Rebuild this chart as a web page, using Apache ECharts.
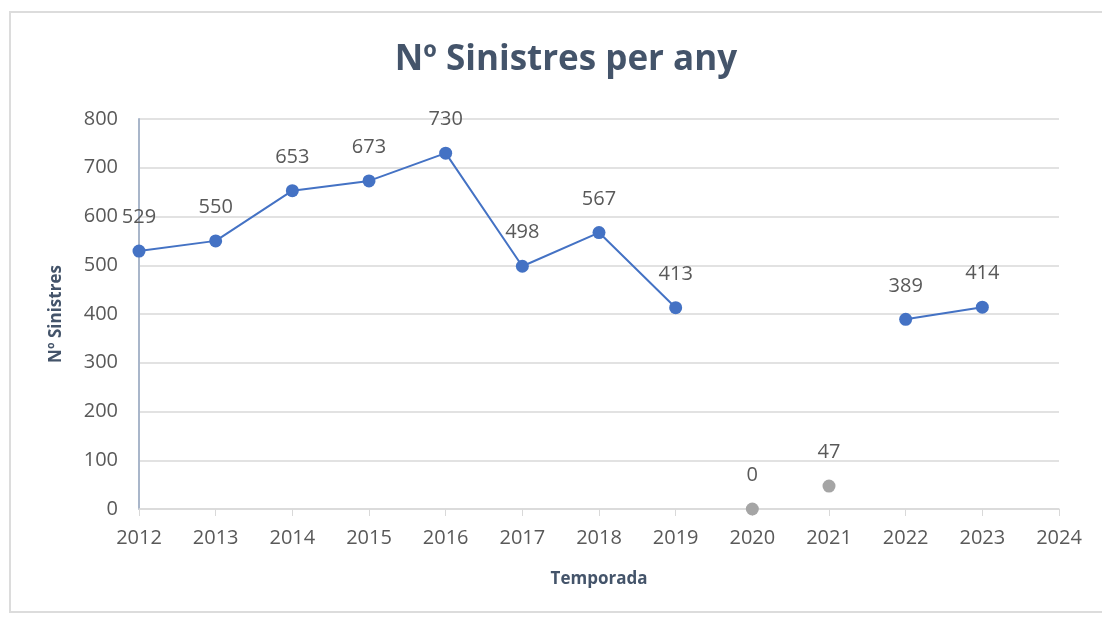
<!DOCTYPE html>
<html>
<head>
<meta charset="utf-8">
<script src="https://cdn.jsdelivr.net/npm/echarts@6/dist/echarts.min.js"></script>
<style>
  html, body { margin: 0; padding: 0; background: #fff; }
  #chart { width: 1102px; height: 618px; }
</style>
</head>
<body>
<div id="chart"></div>
<script>
// anys i sinistres
var years = [2012, 2013, 2014, 2015, 2016, 2017, 2018, 2019, 2020, 2021, 2022, 2023];
var sinistres = [529, 550, 653, 673, 730, 498, 567, 413, null, null, 389, 414];
// anys covid (punts grisos)
var covidYears = [2020, 2021];
var covidValues = [0, 47];

var mainData = years.map(function (y, i) { return [y, sinistres[i]]; });
var covidData = covidYears.map(function (y, i) { return [y, covidValues[i]]; });

var chart = echarts.init(document.getElementById('chart'));
function labelStyle() {
  return {
    show: true,
    position: 'top',
    distance: 17,
    color: '#595959',
    fontSize: 20,
    fontFamily: 'Open Sans'
  };
}

chart.setOption({
  animation: false,
  title: {
    text: 'Nº Sinistres per any',
    left: 561,
    textAlign: 'center',
    top: 38,
    textStyle: {
      color: '#44546A',
      fontSize: 35,
      fontWeight: 'bold',
      fontFamily: 'Open Sans'
    }
  },
  graphic: [{
    type: 'rect',
    shape: { x: 10, y: 12, width: 1100, height: 600 },
    style: { fill: 'none', stroke: '#DCDCDC', lineWidth: 2 },
    silent: true
  }],
  grid: { left: 139, right: 43, top: 119, bottom: 109 },
  xAxis: {
    type: 'value',
    min: 2012,
    max: 2024,
    interval: 1,
    name: 'Temporada',
    nameLocation: 'middle',
    nameGap: 62,
    nameTextStyle: { color: '#44546A', fontSize: 17, fontWeight: 'bold', fontFamily: 'Open Sans' },
    axisLine: { show: true, lineStyle: { color: '#D9D9D9', width: 1.5 } },
    axisTick: { show: true, length: 7, lineStyle: { color: '#D9D9D9' } },
    axisLabel: {
      color: '#595959', fontSize: 20, fontFamily: 'Open Sans', margin: 19,
      formatter: function (v) { return String(v); }
    },
    splitLine: { show: false }
  },
  yAxis: {
    type: 'value',
    min: 0,
    max: 800,
    interval: 100,
    name: 'Nº Sinistres',
    nameLocation: 'middle',
    nameGap: 74,
    nameTextStyle: { color: '#44546A', fontSize: 17, fontWeight: 'bold', fontFamily: 'Open Sans' },
    axisLine: { show: true, lineStyle: { color: '#A9B6CA', width: 2 } },
    axisTick: { show: false },
    axisLabel: { color: '#595959', fontSize: 20, fontFamily: 'Open Sans', margin: 21 },
    splitLine: { show: true, lineStyle: { color: '#D9D9D9', width: 1.5 } }
  },
  series: [{
    name: 'Sinistres',
    type: 'line',
    data: mainData,
    connectNulls: false,
    symbol: 'circle',
    symbolSize: 13,
    lineStyle: { color: '#4472C4', width: 2 },
    itemStyle: { color: '#4472C4' },
    label: labelStyle(),
    z: 3
  }, {
    name: 'Covid',
    type: 'scatter',
    data: covidData,
    symbol: 'circle',
    symbolSize: 13,
    itemStyle: { color: '#A5A5A5', opacity: 1 },
    label: labelStyle(),
    emphasis: { disabled: true },
    z: 3
  }]
});
</script>
</body>
</html>
